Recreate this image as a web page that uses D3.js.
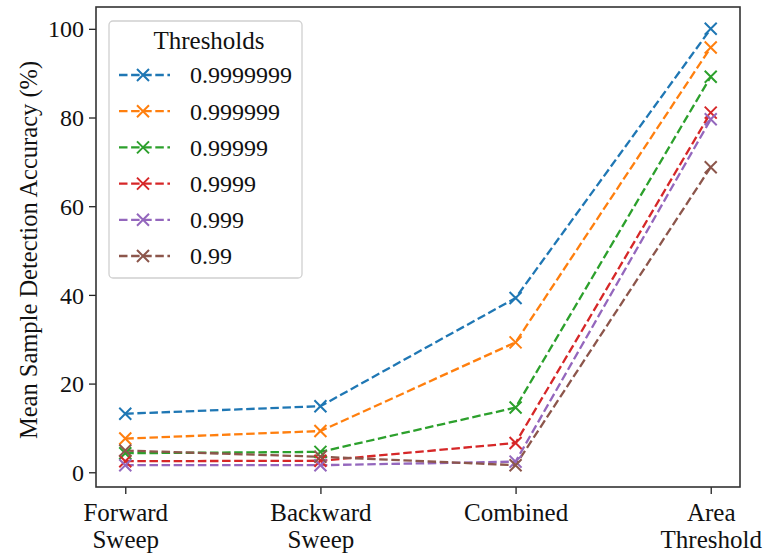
<!DOCTYPE html>
<html>
<head>
<meta charset="utf-8">
<script src="https://cdn.jsdelivr.net/npm/d3@7"></script>
<style>
  body { margin: 0; background: #fff; }
  svg { display: block; font-family: 'Liberation Serif', 'Times New Roman', serif; }
</style>
</head>
<body>
<div id="chart"></div>
<script>
// categories on the x axis (two-line labels)
const methods = ['Forward Sweep', 'Backward Sweep', 'Combined', 'Area Threshold'];
const methodLines = [['Forward', 'Sweep'], ['Backward', 'Sweep'], ['Combined'], ['Area', 'Threshold']];

const thresholds = ['0.9999999', '0.999999', '0.99999', '0.9999', '0.999', '0.99'];
const colors = ['#1f77b4', '#ff7f0e', '#2ca02c', '#d62728', '#9467bd', '#8c564b'];

// mean detection accuracy (%) per threshold
const acc9999999 = [13.2, 14.9, 39.3, 100.0];
const acc999999 = [7.6, 9.3, 29.3, 95.8];
const acc99999 = [4.3, 4.6, 14.6, 89.2];
const acc9999 = [2.5, 2.6, 6.6, 81.1];
const acc999 = [1.6, 1.6, 2.4, 79.6];
const acc99 = [4.9, 3.5, 1.6, 68.8];
const seriesValues = [acc9999999, acc999999, acc99999, acc9999, acc999, acc99];

const yTicks = [0, 20, 40, 60, 80, 100];

const svgWidth = 764;
const svgHeight = 553;
const margin = { top: 7, right: 24, bottom: 66, left: 96 };
const chartWidth = svgWidth - margin.left - margin.right;
const chartHeight = svgHeight - margin.top - margin.bottom;

const svg = d3.select('#chart')
  .append('svg')
  .attr('width', svgWidth)
  .attr('height', svgHeight);

const chartGroup = svg.append('g')
  .attr('transform', `translate(${margin.left}, ${margin.top})`);

// matplotlib-style 5% padding on both axes
const xScale = d3.scaleLinear()
  .domain([-0.15, methods.length - 1 + 0.15])
  .range([0, chartWidth]);

const allVals = seriesValues.flat();
const yMin = d3.min(allVals), yMax = d3.max(allVals);
const yPad = (yMax - yMin) * 0.05;
const yScale = d3.scaleLinear()
  .domain([yMin - yPad, yMax + yPad])
  .range([chartHeight, 0]);

// axes
const bottomAxis = d3.axisBottom(xScale)
  .tickValues(d3.range(methods.length))
  .tickSize(7)
  .tickFormat('');
const xAxis = chartGroup.append('g')
  .attr('transform', `translate(0, ${chartHeight})`)
  .call(bottomAxis);

const leftAxis = d3.axisLeft(yScale)
  .tickValues(yTicks)
  .tickSize(7)
  .tickPadding(5)
  .tickFormat(d3.format('d'));
const yAxis = chartGroup.append('g').call(leftAxis);

[xAxis, yAxis].forEach((ax) => {
  ax.select('.domain').remove();
  ax.selectAll('.tick line').attr('stroke', '#222').attr('stroke-width', 1.3);
});
yAxis.selectAll('.tick text')
  .attr('font-family', 'Liberation Serif, serif')
  .attr('font-size', 24)
  .attr('fill', '#111')
  .attr('dy', '0.34em');

// two-line category labels
xAxis.selectAll('.tick').each(function (d) {
  const t = d3.select(this).append('text')
    .attr('fill', '#111')
    .attr('font-family', 'Liberation Serif, serif')
    .attr('font-size', 25)
    .attr('text-anchor', 'middle');
  methodLines[d].forEach((line, i) => {
    t.append('tspan').attr('x', 0).attr('y', 34 + i * 27).text(line);
  });
});

// line series
const line = d3.line()
  .x((d, i) => xScale(i))
  .y((d) => yScale(d));

const seriesGroup = chartGroup.append('g');
seriesValues.forEach((vals, s) => {
  seriesGroup.append('path')
    .datum(vals)
    .attr('fill', 'none')
    .attr('stroke', colors[s])
    .attr('stroke-width', 2.3)
    .attr('stroke-dasharray', '8.5,3.6')
    .attr('d', line);
});

function drawCross(g, cx, cy, r, color) {
  g.append('path')
    .attr('d', `M${cx - r},${cy - r}L${cx + r},${cy + r}M${cx - r},${cy + r}L${cx + r},${cy - r}`)
    .attr('stroke', color)
    .attr('stroke-width', 2)
    .attr('fill', 'none');
}

seriesValues.forEach((vals, s) => {
  vals.forEach((v, i) => drawCross(seriesGroup, xScale(i), yScale(v), 6, colors[s]));
});

// frame
chartGroup.append('rect')
  .attr('width', chartWidth)
  .attr('height', chartHeight)
  .attr('fill', 'none')
  .attr('stroke', '#333')
  .attr('stroke-width', 1.6);

// y label
svg.append('text')
  .attr('transform', `translate(37, ${margin.top + chartHeight / 2 + 3}) rotate(-90)`)
  .attr('text-anchor', 'middle')
  .attr('font-size', 24.5)
  .attr('fill', '#111')
  .text('Mean Sample Detection Accuracy (%)');

// legend
const legend = chartGroup.append('g')
  .attr('transform', `translate(${109 - margin.left}, ${21 - margin.top})`);
legend.append('rect')
  .attr('width', 193)
  .attr('height', 257)
  .attr('rx', 4)
  .attr('fill', '#fff')
  .attr('fill-opacity', 0.85)
  .attr('stroke', '#d0d0d0')
  .attr('stroke-width', 1.3);
legend.append('text')
  .attr('x', 100)
  .attr('y', 28)
  .attr('text-anchor', 'middle')
  .attr('font-size', 25)
  .attr('fill', '#111')
  .text('Thresholds');

thresholds.forEach((name, s) => {
  const y = 54 + s * 36.2;
  legend.append('line')
    .attr('x1', 10).attr('x2', 61)
    .attr('y1', y).attr('y2', y)
    .attr('stroke', colors[s])
    .attr('stroke-width', 2.3)
    .attr('stroke-dasharray', '8.5,3.6');
  drawCross(legend, 34, y, 6, colors[s]);
  legend.append('text')
    .attr('x', 81)
    .attr('y', y)
    .attr('dy', '0.35em')
    .attr('font-size', 24)
    .attr('fill', '#111')
    .text(name);
});
</script>
</body>
</html>
